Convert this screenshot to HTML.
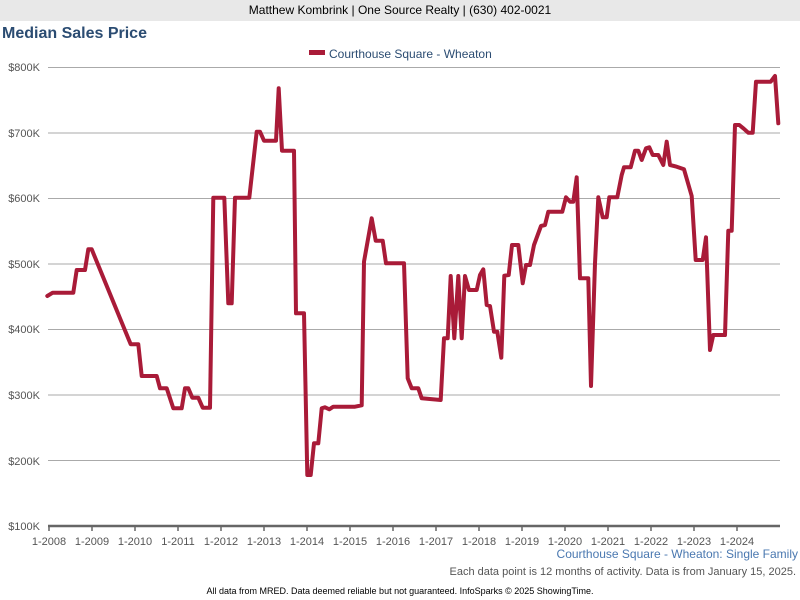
<!DOCTYPE html>
<html><head><meta charset="utf-8"><style>
body{margin:0;width:800px;height:600px;background:#fff;font-family:"Liberation Sans",sans-serif;overflow:hidden;position:relative}
.hdr{position:absolute;left:0;top:0;width:800px;height:21px;background:#e8e8e8;text-align:center;font-size:12px;line-height:21px;color:#000}
.t{position:absolute;left:2px;top:25px;font-size:16px;font-weight:bold;color:#2b4c72}
</style></head><body>
<div class="hdr">Matthew Kombrink | One Source Realty | (630) 402-0021</div>
<div class="t">Median Sales Price</div>
<svg width="800" height="600" style="position:absolute;left:0;top:0" font-family="Liberation Sans, sans-serif">
<rect x="309" y="50" width="16" height="5" fill="#a91b38"/>
<text x="329" y="58" font-size="12" fill="#2b4c72">Courthouse Square - Wheaton</text>
<g stroke="#aaa" stroke-width="1">
<line x1="48" x2="780" y1="67.5" y2="67.5"/><line x1="48" x2="780" y1="133" y2="133"/>
<line x1="48" x2="780" y1="198.5" y2="198.5"/><line x1="48" x2="780" y1="264" y2="264"/>
<line x1="48" x2="780" y1="329.5" y2="329.5"/><line x1="48" x2="780" y1="395" y2="395"/>
<line x1="48" x2="780" y1="460.5" y2="460.5"/>
</g>
<line x1="48" x2="780" y1="526" y2="526" stroke="#666" stroke-width="2.5"/>
<g font-size="11" fill="#555" text-anchor="end">
<text x="40" y="71">$800K</text><text x="40" y="137">$700K</text><text x="40" y="202">$600K</text>
<text x="40" y="268">$500K</text><text x="40" y="333">$400K</text><text x="40" y="399">$300K</text>
<text x="40" y="465">$200K</text><text x="40" y="530">$100K</text>
</g>
<g stroke="#666" stroke-width="1.5">
<line x1="49" x2="49" y1="526" y2="531"/><line x1="92" x2="92" y1="526" y2="531"/><line x1="135" x2="135" y1="526" y2="531"/><line x1="178" x2="178" y1="526" y2="531"/><line x1="221" x2="221" y1="526" y2="531"/><line x1="264" x2="264" y1="526" y2="531"/><line x1="307" x2="307" y1="526" y2="531"/><line x1="350" x2="350" y1="526" y2="531"/><line x1="393" x2="393" y1="526" y2="531"/><line x1="436" x2="436" y1="526" y2="531"/><line x1="479" x2="479" y1="526" y2="531"/><line x1="522" x2="522" y1="526" y2="531"/><line x1="565" x2="565" y1="526" y2="531"/><line x1="608" x2="608" y1="526" y2="531"/><line x1="651" x2="651" y1="526" y2="531"/><line x1="694" x2="694" y1="526" y2="531"/><line x1="737" x2="737" y1="526" y2="531"/>
</g>
<g font-size="11" fill="#555" text-anchor="middle">
<text x="49" y="545">1-2008</text><text x="92" y="545">1-2009</text><text x="135" y="545">1-2010</text><text x="178" y="545">1-2011</text><text x="221" y="545">1-2012</text><text x="264" y="545">1-2013</text><text x="307" y="545">1-2014</text><text x="350" y="545">1-2015</text><text x="393" y="545">1-2016</text><text x="436" y="545">1-2017</text><text x="479" y="545">1-2018</text><text x="522" y="545">1-2019</text><text x="565" y="545">1-2020</text><text x="608" y="545">1-2021</text><text x="651" y="545">1-2022</text><text x="694" y="545">1-2023</text><text x="737" y="545">1-2024</text>
</g>
<text x="798" y="558" font-size="12" fill="#4a78b0" text-anchor="end">Courthouse Square - Wheaton: Single Family</text>
<text x="796" y="575" font-size="11" fill="#555" text-anchor="end">Each data point is 12 months of activity. Data is from January 15, 2025.</text>
<text x="400" y="594" font-size="9" fill="#000" text-anchor="middle">All data from MRED. Data deemed reliable but not guaranteed. InfoSparks © 2025 ShowingTime.</text>
<polyline fill="none" stroke="#a91b38" stroke-width="4" stroke-linejoin="round" stroke-linecap="round" points="
47.3,296 52.7,292.7 73.3,292.7 76.7,270 85,270 88.3,249.3 91.7,249.3 130.7,344.3 138.3,344.3 141.7,376 156.7,376 160,388.3 166.7,388.3 173.3,408.3 181.7,408.3 185,388.3 188.3,388.3 192.3,397.7 198.3,397.7 202.7,407.7 210,407.7 213.3,197.7 224.3,197.7 228.3,303.3 231.7,303.3 235,197.7 249.3,197.7 256.7,131.7 260,131.7 264,140.7 276,140.7 278.7,88.3 282,150.7 294,150.7 296,313.3 304,313.3 307.3,475 310.7,475 314,443.3 318.3,443.3 321.7,408.3 325,407.3 329.3,409.3 333.3,406.7 355,406.7 361.7,405.3 364,261.7 371.7,218.3 375.7,240.7 382.7,240.7 386,263.3 404,263.3 407.7,378.3 411.7,388.3 418.3,388.3 421.7,398.3 440.7,400 444,338.3 447.7,338.3 450.7,276 454.3,338.3 458.3,276 461.7,338.3 465,276 469,290 476.7,290 480,275 483.3,269.3 486.7,305 490,306 494,331.7 497.3,331.7 501.3,357.7 504.3,275.7 508.7,275 512,245 518.3,245 522.7,283.3 526,265 530,265 534,245 541,226 545,225 548.3,211.7 562.3,211.7 566,197.3 570,201.7 573.3,201.7 576.7,177.3 580,278.3 588.3,278.3 591,386 595,263.3 598.3,197.3 602.7,217.3 606.7,217.3 609.3,197.3 617.3,197.3 621.7,175 624,167.3 630.7,167.3 635,150.7 638.3,150.7 641.7,160 646,148.3 649.3,147.3 652.7,155 658.3,155 663.3,165 666.7,141.7 670,165 676.7,166.7 684,169.3 691.7,196 695.7,260 702.7,260 706,237.3 710,350 713.3,335 725,335 728.3,230.7 731.7,230.7 735,125 739.3,125 743.3,128.3 748.3,132.7 752.7,132.7 756,81.7 770.7,81.7 775,76 778.3,123.3"/>
</svg>
</body></html>
